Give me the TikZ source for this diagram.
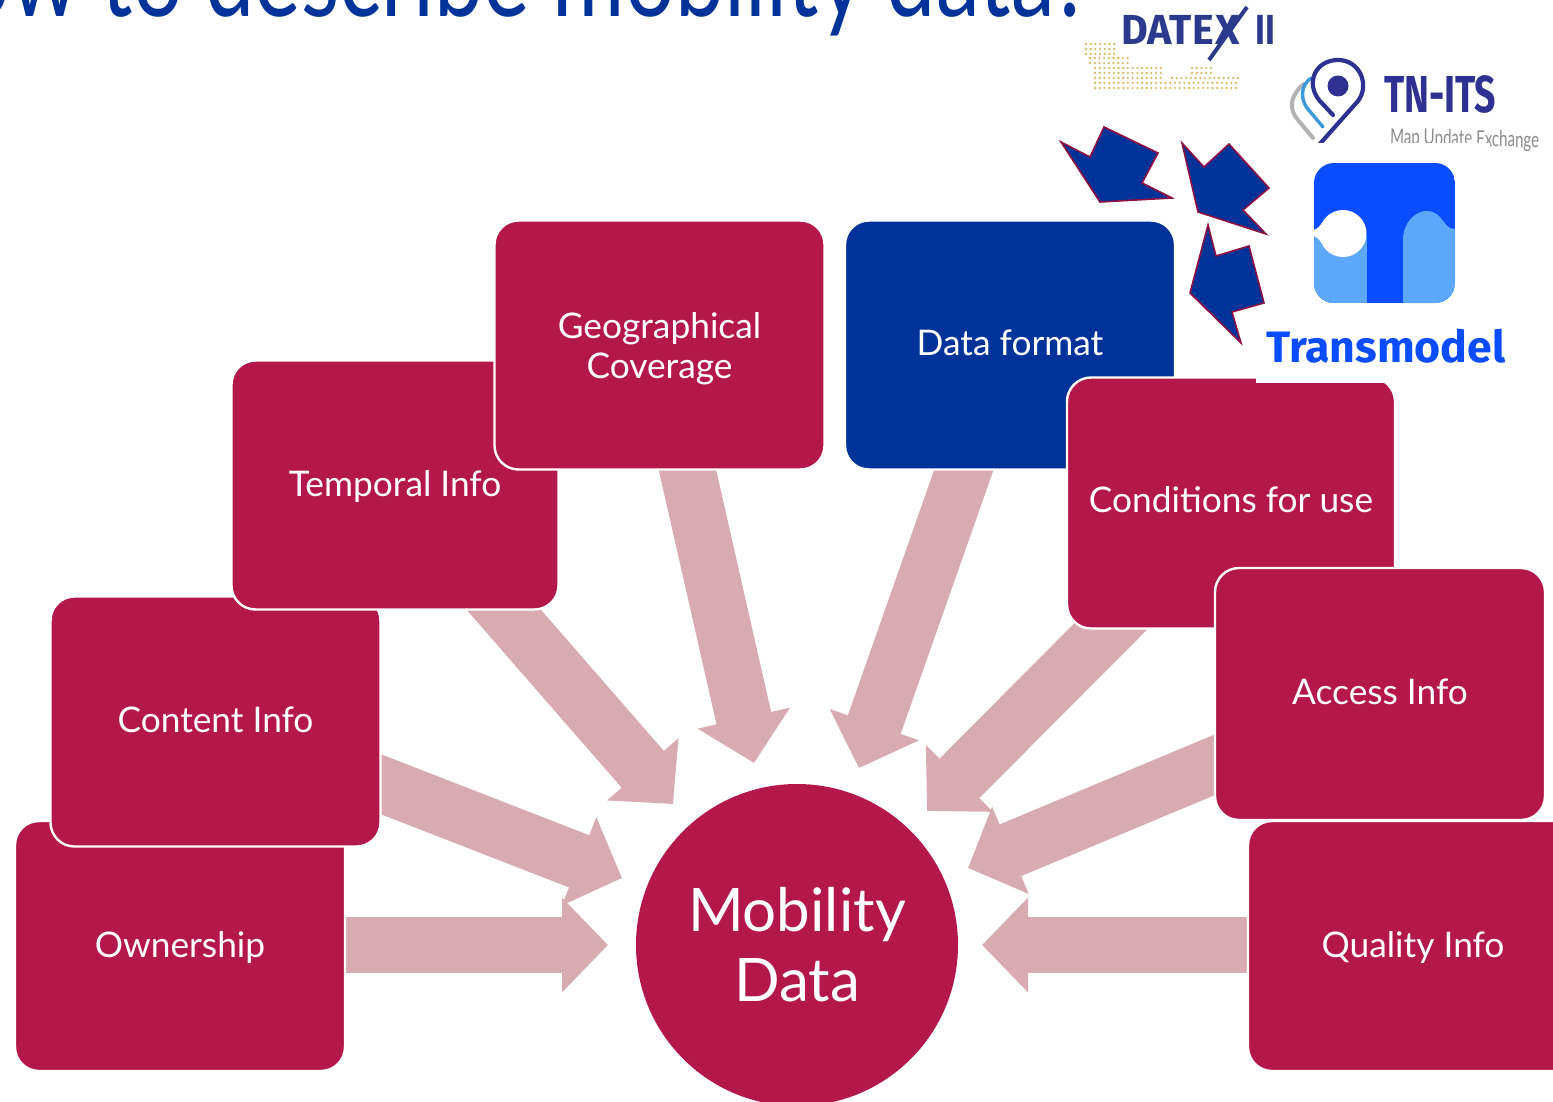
\documentclass[tikz,border=0pt]{standalone}
\usepackage{fontspec}
\setmainfont{Lato}
\newfontfamily\logofont{Fira Sans}
\usetikzlibrary{arrows.meta}
\definecolor{crim}{HTML}{B41749}
\definecolor{navy}{HTML}{003399}
\definecolor{pinkarrow}{HTML}{D8ABB3}
\definecolor{darkred}{HTML}{8E1040}
\definecolor{tmblue}{HTML}{0A4DFF}
\definecolor{tmlight}{HTML}{5CA8FF}
\definecolor{indigo}{HTML}{2E3192}
\definecolor{dxblue}{HTML}{2B3A8C}
\definecolor{dxdot}{HTML}{D9BB6A}
\newcommand{\shifted}[2]{\raisebox{#1}[0pt][0pt]{#2}}
\tikzset{
  box/.style={draw=white,line width=2.4pt,rounded corners=24pt,fill=crim,text=white,
    minimum width=330pt,minimum height=250pt,align=center,inner sep=0pt,
    font=\fontsize{35.3}{40}\selectfont},
  blockarrow/.style={draw=pinkarrow,line width=56pt,-{Triangle[width=92pt,length=46pt,fill=pinkarrow]}},
  darrow/.style={fill=navy,draw=darkred,line width=1.6pt,line join=miter,miter limit=10},
  logotext/.style={inner sep=0pt,font=\logofont\bfseries}
}
\begin{document}
\begin{tikzpicture}[x=1pt,y=-1pt]
\useasboundingbox (0,0) rectangle (1553,1102);
\clip (0,0) rectangle (1553,1102);
\fill[white] (0,0) rectangle (1553,1102);
% title
\node[anchor=base east,inner sep=0pt,text=navy,yscale=1.3,transform shape,font=\fontsize{88}{90}\selectfont] (title) at (1092,17) {How to describe mobility data?};
% connector ends
\coordinate (t1) at (300,945);   \coordinate (h1) at (608,945);
\coordinate (t2) at (334,766);   \coordinate (h2) at (622,878);
\coordinate (t3) at (463,563);   \coordinate (h3) at (673,804);
\coordinate (t4) at (677,424);   \coordinate (h4) at (754,763);
\coordinate (t5) at (980,424);   \coordinate (h5) at (859,768);
\coordinate (t6) at (1149,588);  \coordinate (h6) at (927,811);
\coordinate (t7) at (1262,745);  \coordinate (h7) at (968,868);
\coordinate (t8) at (1290,945);  \coordinate (h8) at (982,945);
\foreach \i in {1,...,8} {\draw[blockarrow] (t\i) -- (h\i);}
% boxes
\node[box] (own) at (180,946) {\shifted{-11pt}{Ownership}};
\node[box] (content) at (215.5,721.5) {\shifted{-10.5pt}{Content Info}};
\node[box,minimum width=327pt,minimum height=249pt] (temporal) at (395,485) {\shifted{-11pt}{Temporal Info}};
\node[box,minimum height=249pt] (geo) at (659.5,345) {\rule{0pt}{33pt}Geographical\\Coverage};
\node[box,fill=navy,minimum height=249pt] (format) at (1010,345) {\shifted{-10pt}{Data format}};
\node[box,minimum width=328pt,minimum height=251pt] (cond) at (1231,503) {\shifted{-9pt}{Conditions for use}};
\fill[white] (1256,143) rectangle (1553,383);
\node[box,minimum height=252pt] (access) at (1380,694) {\shifted{-10pt}{Access Info}};
\node[box] (quality) at (1413,946) {\shifted{-11pt}{Quality Info}};
\node[circle,fill=crim,text=white,minimum size=322pt,inner sep=0pt,align=center,font=\fontsize{60}{70}\selectfont] (mob) at (797,945) {Mobility\\Data};
% dark arrows
\draw[darrow] (1104,127) -- (1158,153) -- (1142,183) -- (1172,198) -- (1100,202) -- (1061,142) -- (1090,157) -- cycle;
\draw[darrow] (1182,143) -- (1204,167) -- (1229,144) -- (1269,188) -- (1243,210) -- (1266,234) -- (1198,212) -- cycle;
\draw[darrow] (1208,225) -- (1216,256) -- (1249,246) -- (1264,303) -- (1232,312) -- (1241,343) -- (1190,293) -- cycle;
% DATEX II logo
\foreach \y/\a/\b in {44/1086/1118,49/1086/1118,54/1086/1118,58/1090/1128,63/1090/1128,68/1095/1163,73/1095/1163,78/1095/1163,83/1095/1240,88/1095/1240}{
  \foreach \x in {0,4.7,...,150}{
    \pgfmathparse{(\a+\x)<=\b ? 1 : 0}
    \ifnum\pgfmathresult=1 \fill[dxdot] (\a+\x,\y) circle (1.3pt);\fi
  }
}
\foreach \y/\a/\b in {68/1192/1215,73/1192/1215,78/1172/1240}{
  \foreach \x in {0,4.7,...,80}{
    \pgfmathparse{(\a+\x)<=\b ? 1 : 0}
    \ifnum\pgfmathresult=1 \fill[dxdot] (\a+\x,\y) circle (1.3pt);\fi
  }
}
\node[logotext,anchor=base west,text=dxblue,font=\logofont\bfseries\fontsize{42}{42}\selectfont,xscale=.98,transform shape] (datex) at (1121,45) {DATE};
\node[logotext,anchor=base west,text=dxblue,font=\logofont\bfseries\fontsize{42}{42}\selectfont,xscale=1,transform shape] (xx) at (1215,45) {X};
\node[logotext,anchor=base west,text=dxblue,font=\logofont\bfseries\fontsize{42}{42}\selectfont,xscale=.8,transform shape] (ii) at (1255,45) {II};
\draw[dxblue,line width=4pt] (1247,7) -- (1209,60);
% TN-ITS logo
\draw[line width=4pt,color=black!30,line cap=round] (1304,84) .. controls (1289,96) and (1289,110) .. (1298,120) -- (1313,138);
\draw[line width=3.4pt,color=cyan!70!blue!80,line cap=round] (1311,78) .. controls (1301,85) and (1300,98) .. (1307,108) -- (1323,127);
\draw[line width=4.2pt,color=indigo,line cap=round] (1333,115) -- (1319,100) .. controls (1305,82) and (1316,60) .. (1338,60) .. controls (1360,60) and (1370,85) .. (1358,101) -- (1318,146);
\fill[indigo] (1338,86) circle (10.5pt);
\fill[white] (1290,143) rectangle (1370,150);
\node[logotext,anchor=base west,text=indigo,font=\logofont\bfseries\fontsize{52}{52}\selectfont,xscale=.72,transform shape] (tnits) at (1384,113) {TN-ITS};
\begin{scope}
\clip (1380,120) -- (1553,120) -- (1553,152) -- (1490,152) -- (1490,143) -- (1380,143) -- cycle;
\node[anchor=base west,inner sep=0pt,text=black!45,font=\fontsize{22}{22}\selectfont,xscale=.685,transform shape,rotate=-1] (mapx) at (1390,144) {Map Update Exchange};
\end{scope}
% Transmodel logo
\begin{scope}
\clip[rounded corners=20pt] (1314,163) rectangle (1455,303);
\fill[tmblue] (1314,163) rectangle (1455,303);
\fill[tmlight] (1314,236) -- (1367,236) -- (1367,303) -- (1314,303) -- cycle;
\fill[tmlight] (1403,303) -- (1403,240) .. controls (1403,222) and (1416,211) .. (1426,211) .. controls (1444,211) and (1442,229) .. (1455,229) -- (1455,303) -- cycle;
\fill[white] (1343,233.5) circle (23.5pt);
\fill[white] (1312,230) .. controls (1320,230) and (1322,220) .. (1330,214) -- (1330,253) .. controls (1322,247) and (1320,236) .. (1312,236) -- cycle;
\end{scope}
\node[logotext,anchor=base west,text=tmblue,xscale=1.015,transform shape,font=\logofont\bfseries\fontsize{44}{44}\selectfont] (tm) at (1266,362) {Transmodel};
\end{tikzpicture}
\end{document}
